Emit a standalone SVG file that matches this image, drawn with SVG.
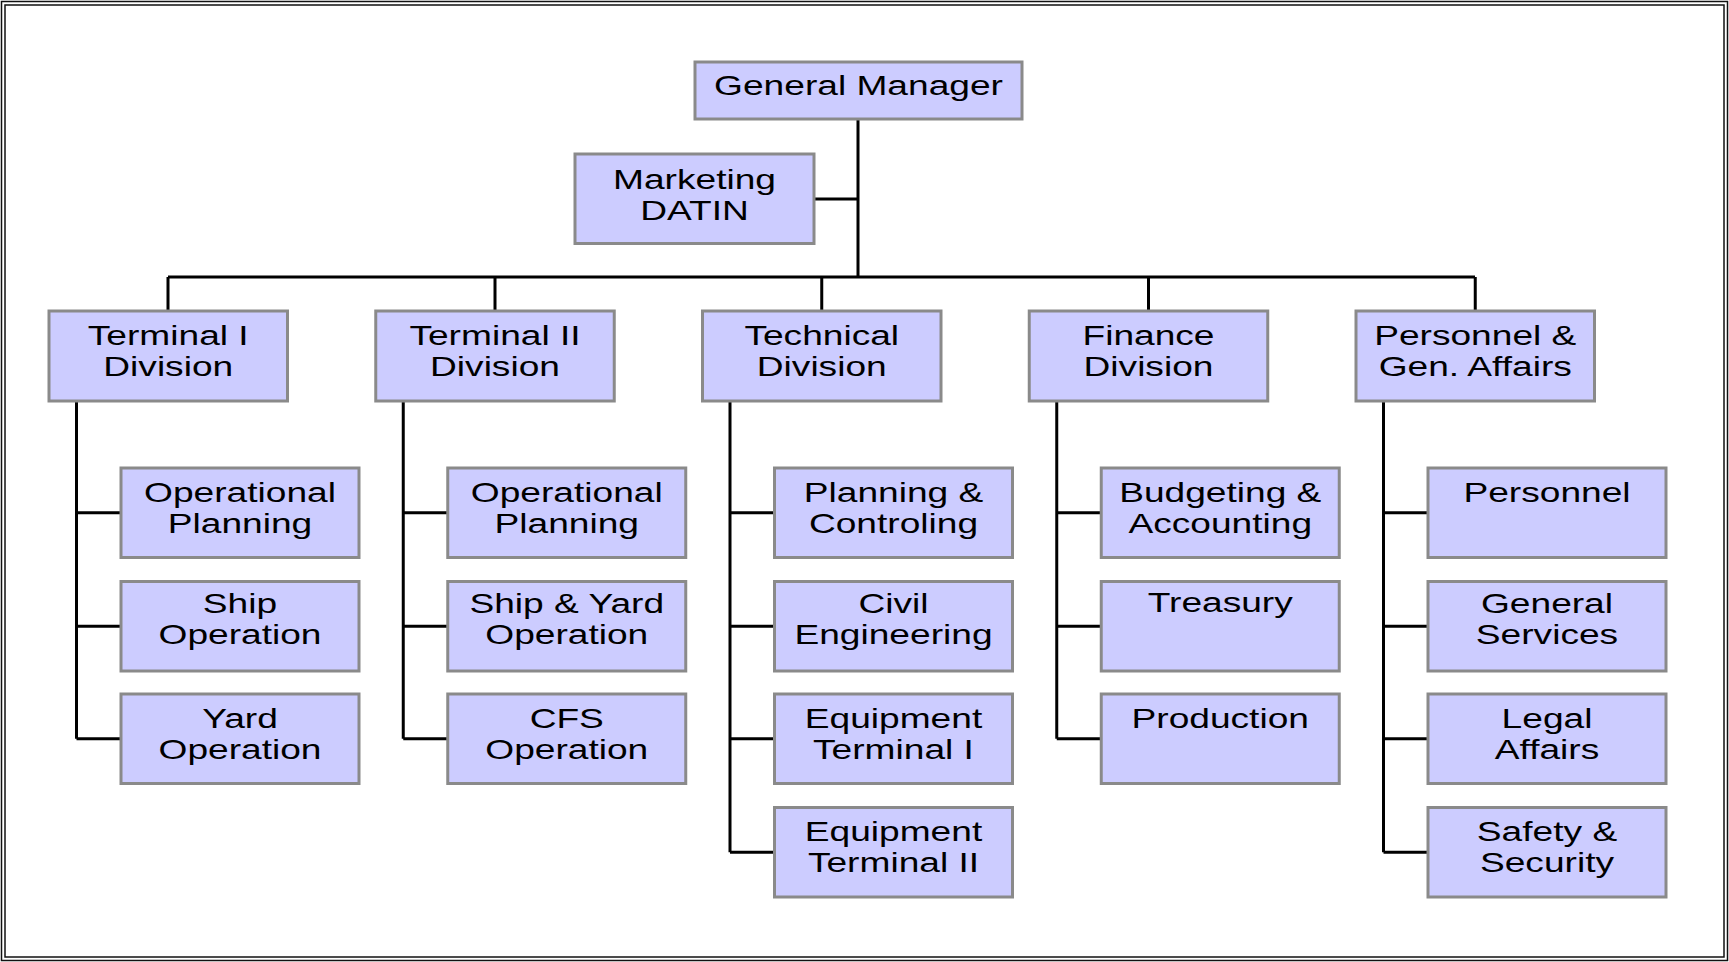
<svg xmlns="http://www.w3.org/2000/svg" width="1729" height="962" viewBox="0 0 1729 962">
<style>
.b{fill:#ccccff;stroke:#8a8a8a;stroke-width:3}
.t{font-family:"Liberation Sans",Arial,sans-serif;font-size:27.5px;fill:#000;text-anchor:middle}
.c{fill:none;stroke:#000;stroke-width:3}
.f{fill:none;stroke:#111;stroke-width:1.5}
</style>
<rect width="1729" height="962" fill="#fff"/>
<rect class="f" x="1.5" y="1.5" width="1726" height="959"/>
<rect class="f" x="5" y="5" width="1719" height="952"/>
<g id="connectors">
<path class="c" d="M858 119V277M814 199H858M168 277H1475M168 277V311M495 277V311M821.75 277V311M1148.5 277V311M1475.25 277V311"/>
<path class="c" d="M76.5 401V738.75M76.5 512.75H121M76.5 626.25H121M76.5 738.75H121"/>
<path class="c" d="M403.25 401V738.75M403.25 512.75H447.75M403.25 626.25H447.75M403.25 738.75H447.75"/>
<path class="c" d="M730 401V852.25M730 512.75H774.5M730 626.25H774.5M730 738.75H774.5M730 852.25H774.5"/>
<path class="c" d="M1056.75 401V738.75M1056.75 512.75H1101.25M1056.75 626.25H1101.25M1056.75 738.75H1101.25"/>
<path class="c" d="M1383.5 401V852.25M1383.5 512.75H1428M1383.5 626.25H1428M1383.5 738.75H1428M1383.5 852.25H1428"/>
</g>
<g id="gm"><rect class="b" x="695" y="62" width="327" height="57"/><text class="t" transform="matrix(1.35 0 0 1 858.5 95)">General Manager</text></g>
<g id="marketing"><rect class="b" x="575" y="154" width="239" height="89.5"/><text class="t" transform="matrix(1.35 0 0 1 694.5 188.5)"><tspan x="0" y="0">Marketing</tspan><tspan x="0" y="31.5">DATIN</tspan></text></g>
<g id="div1"><rect class="b" x="49" y="311" width="238.5" height="90"/><text class="t" transform="matrix(1.35 0 0 1 168.25 345)"><tspan x="0" y="0">Terminal I</tspan><tspan x="0" y="31.5">Division</tspan></text></g>
<g id="div2"><rect class="b" x="375.75" y="311" width="238.5" height="90"/><text class="t" transform="matrix(1.35 0 0 1 495 345)"><tspan x="0" y="0">Terminal II</tspan><tspan x="0" y="31.5">Division</tspan></text></g>
<g id="div3"><rect class="b" x="702.5" y="311" width="238.5" height="90"/><text class="t" transform="matrix(1.35 0 0 1 821.75 345)"><tspan x="0" y="0">Technical</tspan><tspan x="0" y="31.5">Division</tspan></text></g>
<g id="div4"><rect class="b" x="1029.25" y="311" width="238.5" height="90"/><text class="t" transform="matrix(1.35 0 0 1 1148.5 345)"><tspan x="0" y="0">Finance</tspan><tspan x="0" y="31.5">Division</tspan></text></g>
<g id="div5"><rect class="b" x="1356" y="311" width="238.5" height="90"/><text class="t" transform="matrix(1.35 0 0 1 1475.25 345)"><tspan x="0" y="0">Personnel &amp;</tspan><tspan x="0" y="31.5">Gen. Affairs</tspan></text></g>
<g id="t1-op"><rect class="b" x="121" y="468" width="238" height="89.5"/><text class="t" transform="matrix(1.35 0 0 1 240 501.5)"><tspan x="0" y="0">Operational</tspan><tspan x="0" y="31.5">Planning</tspan></text></g>
<g id="t1-ship"><rect class="b" x="121" y="581.5" width="238" height="89.5"/><text class="t" transform="matrix(1.35 0 0 1 240 613)"><tspan x="0" y="0">Ship</tspan><tspan x="0" y="31.5">Operation</tspan></text></g>
<g id="t1-yard"><rect class="b" x="121" y="694" width="238" height="89.5"/><text class="t" transform="matrix(1.35 0 0 1 240 727.5)"><tspan x="0" y="0">Yard</tspan><tspan x="0" y="31.5">Operation</tspan></text></g>
<g id="t2-op"><rect class="b" x="447.75" y="468" width="238" height="89.5"/><text class="t" transform="matrix(1.35 0 0 1 566.75 501.5)"><tspan x="0" y="0">Operational</tspan><tspan x="0" y="31.5">Planning</tspan></text></g>
<g id="t2-shipyard"><rect class="b" x="447.75" y="581.5" width="238" height="89.5"/><text class="t" transform="matrix(1.35 0 0 1 566.75 613)"><tspan x="0" y="0">Ship &amp; Yard</tspan><tspan x="0" y="31.5">Operation</tspan></text></g>
<g id="t2-cfs"><rect class="b" x="447.75" y="694" width="238" height="89.5"/><text class="t" transform="matrix(1.35 0 0 1 566.75 727.5)"><tspan x="0" y="0">CFS</tspan><tspan x="0" y="31.5">Operation</tspan></text></g>
<g id="tech-plan"><rect class="b" x="774.5" y="468" width="238" height="89.5"/><text class="t" transform="matrix(1.35 0 0 1 893.5 501.5)"><tspan x="0" y="0">Planning &amp;</tspan><tspan x="0" y="31.5">Controling</tspan></text></g>
<g id="tech-civil"><rect class="b" x="774.5" y="581.5" width="238" height="89.5"/><text class="t" transform="matrix(1.35 0 0 1 893.5 613)"><tspan x="0" y="0">Civil</tspan><tspan x="0" y="31.5">Engineering</tspan></text></g>
<g id="tech-eq1"><rect class="b" x="774.5" y="694" width="238" height="89.5"/><text class="t" transform="matrix(1.35 0 0 1 893.5 727.5)"><tspan x="0" y="0">Equipment</tspan><tspan x="0" y="31.5">Terminal I</tspan></text></g>
<g id="tech-eq2"><rect class="b" x="774.5" y="807.5" width="238" height="89.5"/><text class="t" transform="matrix(1.35 0 0 1 893.5 840.5)"><tspan x="0" y="0">Equipment</tspan><tspan x="0" y="31.5">Terminal II</tspan></text></g>
<g id="fin-budget"><rect class="b" x="1101.25" y="468" width="238" height="89.5"/><text class="t" transform="matrix(1.35 0 0 1 1220.25 501.5)"><tspan x="0" y="0">Budgeting &amp;</tspan><tspan x="0" y="31.5">Accounting</tspan></text></g>
<g id="fin-treasury"><rect class="b" x="1101.25" y="581.5" width="238" height="89.5"/><text class="t" transform="matrix(1.35 0 0 1 1220.25 612)">Treasury</text></g>
<g id="fin-production"><rect class="b" x="1101.25" y="694" width="238" height="89.5"/><text class="t" transform="matrix(1.35 0 0 1 1220.25 727.5)">Production</text></g>
<g id="pga-personnel"><rect class="b" x="1428" y="468" width="238" height="89.5"/><text class="t" transform="matrix(1.35 0 0 1 1547 501.5)">Personnel</text></g>
<g id="pga-general"><rect class="b" x="1428" y="581.5" width="238" height="89.5"/><text class="t" transform="matrix(1.35 0 0 1 1547 613)"><tspan x="0" y="0">General</tspan><tspan x="0" y="31.5">Services</tspan></text></g>
<g id="pga-legal"><rect class="b" x="1428" y="694" width="238" height="89.5"/><text class="t" transform="matrix(1.35 0 0 1 1547 727.5)"><tspan x="0" y="0">Legal</tspan><tspan x="0" y="31.5">Affairs</tspan></text></g>
<g id="pga-safety"><rect class="b" x="1428" y="807.5" width="238" height="89.5"/><text class="t" transform="matrix(1.35 0 0 1 1547 840.5)"><tspan x="0" y="0">Safety &amp;</tspan><tspan x="0" y="31.5">Security</tspan></text></g>
</svg>
